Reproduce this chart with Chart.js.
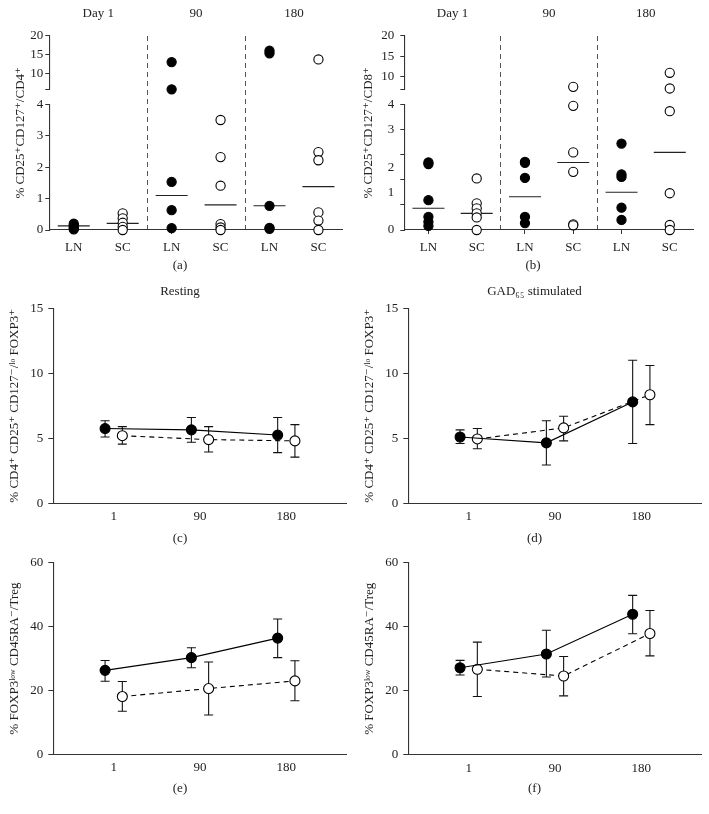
<!DOCTYPE html>
<html>
<head>
<meta charset="utf-8">
<script src="https://cdn.jsdelivr.net/npm/chart.js@4"></script>
<style>
  body { margin: 0; background: #fff; width: 709px; height: 814px; overflow: hidden; position: relative; }
  canvas { position: absolute; }
</style>
</head>
<body>
<canvas id="chartA" width="360" height="280" style="left:0px;top:0px"></canvas>
<canvas id="chartB" width="356" height="280" style="left:355px;top:0px"></canvas>
<canvas id="chartC" width="360" height="270" style="left:0px;top:280px"></canvas>
<canvas id="chartD" width="359" height="270" style="left:355px;top:280px"></canvas>
<canvas id="chartE" width="360" height="264" style="left:0px;top:550px"></canvas>
<canvas id="chartF" width="359" height="264" style="left:355px;top:550px"></canvas>
<script>
// ---- categories / tick labels ----
const tissues = ['LN', 'SC', 'LN', 'SC', 'LN', 'SC'];
const dayGroups = ['Day 1', '90', '180'];
const days = ['1', '90', '180'];

// ---- (a) % CD25+CD127+/CD4+ per patient ----
const cd4LN1 = [0.2, 0.15, 0.1, 0.05, 0.02];
const cd4SC1 = [0.53, 0.37, 0.23, 0.1, 0.0];
const cd4LN90 = [13.1, 6.0, 1.53, 0.63, 0.06];
const cd4SC90 = [3.5, 2.32, 1.41, 0.19, 0.08, 0.0];
const cd4LN180 = [16.1, 15.4, 0.77, 0.07, 0.04];
const cd4SC180 = [13.8, 2.48, 2.22, 0.56, 0.3, 0.0];
const cd4Means = [0.13, 0.21, 1.1, 0.8, 0.77, 1.38];
const cd4LowTicks = [0, 1, 2, 3, 4];
const cd4LowLabels = ['0', '1', '2', '3', '4'];

// ---- (b) % CD25+CD127+/CD8+ per patient ----
const cd8LN1 = [2.15, 2.1, 0.95, 0.42, 0.26, 0.13];
const cd8SC1 = [1.64, 0.85, 0.69, 0.53, 0.4, 0.0];
const cd8LN90 = [2.17, 2.14, 1.66, 0.42, 0.22];
const cd8SC90 = [7.6, 3.95, 2.47, 1.85, 0.18, 0.15];
const cd8LN180 = [2.75, 1.77, 1.69, 0.71, 0.32];
const cd8SC180 = [11.0, 7.2, 3.78, 1.17, 0.16, 0.0];
const cd8Means = [0.69, 0.53, 1.06, 2.15, 1.2, 2.47];
const cd8LowTicks = [0, 0.8, 1.2, 1.6, 2.0, 2.4, 3.2, 4];
const cd8LowLabels = ['0', '', '1', '', '2', '', '3', '4'];
const cd8TickMarks = [0, 0.8, 1.6, 2.4, 3.2, 4];

const highTicks = [10, 15, 20];

// ---- (c) resting ----
const restLN = [5.75, 5.65, 5.25];
const restLNLo = [5.1, 4.7, 3.9];
const restLNHi = [6.35, 6.6, 6.6];
const restSC = [5.2, 4.9, 4.8];
const restSCLo = [4.55, 3.95, 3.55];
const restSCHi = [5.9, 5.9, 6.05];

// ---- (d) GAD65 stimulated ----
const gadLN = [5.1, 4.65, 7.8];
const gadLNLo = [4.6, 2.95, 4.6];
const gadLNHi = [5.65, 6.35, 11.0];
const gadSC = [4.95, 5.8, 8.35];
const gadSCLo = [4.2, 4.8, 6.05];
const gadSCHi = [5.75, 6.7, 10.6];

// ---- (e) FOXP3low CD45RA-/Treg, resting ----
const memLN = [26.3, 30.3, 36.4];
const memLNLo = [22.9, 27.1, 30.3];
const memLNHi = [29.4, 33.4, 42.4];
const memSC = [18.1, 20.6, 23.0];
const memSCLo = [13.5, 12.3, 16.8];
const memSCHi = [22.8, 28.9, 29.3];

// ---- (f) FOXP3low CD45RA-/Treg, stimulated ----
const memGadLN = [27.2, 31.5, 43.9];
const memGadLNLo = [24.9, 24.3, 37.8];
const memGadLNHi = [29.5, 38.9, 49.8];
const memGadSC = [26.7, 24.6, 37.9];
const memGadSCLo = [18.2, 18.4, 30.9];
const memGadSCHi = [35.2, 30.7, 45.1];

Chart.defaults.font.family = "'Liberation Serif', 'DejaVu Serif', serif";
Chart.defaults.font.size = 13;
Chart.defaults.color = '#222';

const ink = '#222';

function spacer(pos, w) {
  return {
    type: 'linear', position: pos, display: true,
    ticks: { display: false }, grid: { display: false }, border: { display: false },
    afterFit: s => { s.width = w; }
  };
}

function dotPlot(cfg) {
  const datasets = [];
  cfg.groups.forEach((vals, i) => {
    const open = i % 2 === 1;
    ['yLow', 'yHigh'].forEach(axis => {
      const pts = vals
        .filter(v => (v > cfg.lowMax) === (axis === 'yHigh'))
        .map(v => ({ x: i, y: v }));
      if (!pts.length) return;
      datasets.push({
        data: pts, yAxisID: axis, clip: false,
        pointRadius: 4.6,
        pointBackgroundColor: open ? '#fff' : '#000',
        pointBorderColor: '#000',
        pointBorderWidth: 1.1
      });
    });
  });
  datasets.push({
    data: cfg.means.map((m, i) => ({ x: i, y: m })),
    yAxisID: 'yLow', clip: false,
    pointStyle: 'line', pointRadius: 16,
    pointBorderColor: ink, pointBorderWidth: 1.1
  });

  new Chart(document.getElementById(cfg.id), {
    type: 'scatter',
    data: { datasets },
    options: {
      responsive: false, devicePixelRatio: 1, animation: false,
      layout: { padding: 0 },
      plugins: {
        legend: { display: false }, tooltip: { enabled: false },
        subtitle: { display: true, position: 'bottom', text: cfg.caption, color: ink, font: { size: 13 }, padding: { top: 0, bottom: 6.5 } }
      },
      scales: {
        x: {
          type: 'linear', min: -0.5, max: tissues.length - 0.5, position: 'bottom',
          afterBuildTicks: s => { s.ticks = tissues.map((t, i) => ({ value: i })); },
          grid: { drawOnChartArea: false, tickLength: 4, color: '#333' },
          border: { color: '#333', width: 1.1 },
          ticks: { callback: (v, i) => tissues[i], padding: 5.9, color: ink, maxRotation: 0 },
          afterFit: s => { s.height = 27.9; }
        },
        xTop: {
          type: 'category', labels: dayGroups, offset: true, position: 'top',
          grid: {
            offset: true, drawTicks: false, lineWidth: 1,
            color: c => (c.index === 1 || c.index === 2) ? '#555' : 'rgba(0,0,0,0)'
          },
          border: { display: false, dash: [5, 4] },
          ticks: { padding: 13.9, color: ink },
          afterFit: s => { s.height = 35.7; }
        },
        yLow: {
          type: 'linear', position: 'left', stack: 'brk', stackWeight: 125.7,
          min: 0, max: cfg.lowMax,
          afterBuildTicks: s => { s.ticks = cfg.lowTicks.map(v => ({ value: v })); },
          ticks: { callback: (v, i) => cfg.lowLabels[i], padding: cfg.tickPad, color: ink, autoSkip: false },
          grid: {
            drawOnChartArea: false, tickLength: 4,
            tickColor: c => cfg.marks.includes(c.tick ? c.tick.value : -1) ? '#333' : 'rgba(0,0,0,0)'
          },
          border: { color: '#333', width: 1.1 },
          afterFit: s => { s.width = cfg.stackW; }
        },
        yGap: {
          type: 'linear', position: 'left', stack: 'brk', stackWeight: 15,
          ticks: { display: false }, grid: { display: false }, border: { display: false },
          afterFit: s => { s.width = cfg.stackW; }
        },
        yHigh: {
          type: 'linear', position: 'left', stack: 'brk', stackWeight: 53.6,
          min: cfg.highMin, max: 20,
          afterBuildTicks: s => { s.ticks = [cfg.highMin].concat(highTicks).map(v => ({ value: v })); },
          ticks: { callback: v => (v === cfg.highMin ? '' : v), padding: cfg.tickPad, color: ink, autoSkip: false },
          grid: { drawOnChartArea: false, tickLength: 4, tickColor: '#333' },
          border: { color: '#333', width: 1.1 },
          afterFit: s => { s.width = cfg.stackW; }
        },
        yTitle: {
          type: 'linear', position: 'left', weight: 10,
          ticks: { display: false }, grid: { display: false }, border: { display: false },
          title: { display: true, text: cfg.yTitle, color: ink, font: { size: 13 }, padding: { top: cfg.titlePad, bottom: 0 } },
          afterFit: s => { s.width = cfg.titleW; }
        },
        yPad: spacer('right', cfg.rightW)
      }
    }
  });
}

function trendPlot(cfg) {
  const shift = 0.1;
  const pts = (vals, dx) => vals.map((v, i) => ({ x: i + 1 + dx, y: v }));
  const bars = (lo, hi, dx) => lo.flatMap((l, i) => [
    { x: i + 1 + dx, y: l }, { x: i + 1 + dx, y: hi[i] }, { x: i + 1 + dx, y: null }
  ]);
  const whisker = { borderColor: '#111', borderWidth: 1.1, pointStyle: 'line', pointRadius: 4.5, pointBorderColor: '#111', pointBorderWidth: 1.1 };
  const datasets = [
    { data: pts(cfg.ln, -shift), borderColor: '#000', borderWidth: 1.1, pointRadius: 5, pointBackgroundColor: '#000', pointBorderColor: '#000' },
    { data: pts(cfg.sc, shift), borderColor: '#000', borderWidth: 1.1, borderDash: [5, 4], pointRadius: 5, pointBackgroundColor: '#fff', pointBorderColor: '#000', pointBorderWidth: 1.1 },
    Object.assign({ data: bars(cfg.lnLo, cfg.lnHi, -shift) }, whisker),
    Object.assign({ data: bars(cfg.scLo, cfg.scHi, shift) }, whisker)
  ];

  const plugins = {
    legend: { display: false }, tooltip: { enabled: false },
    subtitle: { display: true, position: 'bottom', text: cfg.caption, color: ink, font: { size: 13 }, padding: { top: 0, bottom: cfg.capPad } }
  };
  if (cfg.title) {
    plugins.title = { display: true, text: cfg.title, color: ink, font: { size: 13, weight: 'normal' }, padding: { top: 4.2, bottom: 8.5 } };
  }

  new Chart(document.getElementById(cfg.id), {
    type: 'line',
    data: { datasets },
    options: {
      responsive: false, devicePixelRatio: 1, animation: false,
      layout: { padding: { top: cfg.padTop || 0 } },
      plugins,
      scales: {
        x: {
          type: 'linear', min: 0.3, max: 3.7,
          afterBuildTicks: s => { s.ticks = days.map((d, i) => ({ value: i + 1 })); },
          ticks: { callback: (v, i) => days[i], padding: cfg.xPad, color: ink, maxRotation: 0 },
          grid: { drawOnChartArea: false, drawTicks: false },
          border: { color: '#333', width: 1.1 },
          afterFit: s => { s.height = cfg.xH; }
        },
        y: {
          type: 'linear', min: 0, max: cfg.yMax,
          ticks: { stepSize: cfg.yStep, padding: 5, color: ink },
          grid: { drawOnChartArea: false, tickLength: 5, tickColor: '#333' },
          border: { color: '#333', width: 1.1 },
          title: { display: true, text: cfg.yTitle, color: ink, font: { size: 13 }, padding: { top: 7.2, bottom: 0 } },
          afterFit: s => { s.width = 53.3; }
        },
        yPad: spacer('right', cfg.rightW)
      }
    }
  });
}

dotPlot({
  id: 'chartA', caption: '(a)', yTitle: '% CD25\u207ACD127\u207A/CD4\u207A',
  groups: [cd4LN1, cd4SC1, cd4LN90, cd4SC90, cd4LN180, cd4SC180], means: cd4Means,
  lowMax: 4, highMin: 6, lowTicks: cd4LowTicks, lowLabels: cd4LowLabels, marks: cd4LowTicks,
  stackW: 20, tickPad: 2, titleW: 29.3, titlePad: 13.2, rightW: 13.3
});

dotPlot({
  id: 'chartB', caption: '(b)', yTitle: '% CD25\u207ACD127\u207A/CD8\u207A',
  groups: [cd8LN1, cd8SC1, cd8LN90, cd8SC90, cd8LN180, cd8SC180], means: cd8Means,
  lowMax: 4, highMin: 7, lowTicks: cd8LowTicks, lowLabels: cd8LowLabels, marks: cd8TickMarks,
  stackW: 23, tickPad: 6, titleW: 26.3, titlePad: 5.5, rightW: 14.3
});

const foxTitle = '% CD4\u207A CD25\u207A CD127\u207B/\u02E1\u1D52 FOXP3\u207A';
const memTitle = '% FOXP3\u02E1\u1D52\u02B7 CD45RA\u207B/Treg';

trendPlot({
  id: 'chartC', title: 'Resting', caption: '(c)', yTitle: foxTitle, yMax: 15, yStep: 5,
  ln: restLN, lnLo: restLNLo, lnHi: restLNHi, sc: restSC, scLo: restSCLo, scHi: restSCHi,
  xH: 27.2, xPad: 5.6, capPad: 3.9, rightW: 13.3
});

trendPlot({
  id: 'chartD', title: 'GAD\u2086\u2085 stimulated', caption: '(d)', yTitle: foxTitle, yMax: 15, yStep: 5,
  ln: gadLN, lnLo: gadLNLo, lnHi: gadLNHi, sc: gadSC, scLo: gadSCLo, scHi: gadSCHi,
  xH: 27.2, xPad: 5.6, capPad: 3.9, rightW: 12.3
});

trendPlot({
  id: 'chartE', caption: '(e)', yTitle: memTitle, yMax: 60, yStep: 20, padTop: 9.3,
  ln: memLN, lnLo: memLNLo, lnHi: memLNHi, sc: memSC, scLo: memSCLo, scHi: memSCHi,
  xH: 26.9, xPad: 5.9, capPad: 17.2, rightW: 13.3
});

trendPlot({
  id: 'chartF', caption: '(f)', yTitle: memTitle, yMax: 60, yStep: 20, padTop: 10.7,
  ln: memGadLN, lnLo: memGadLNLo, lnHi: memGadLNHi, sc: memGadSC, scLo: memGadSCLo, scHi: memGadSCHi,
  xH: 26.5, xPad: 5.9, capPad: 17.2, rightW: 12.3
});
</script>
</body>
</html>
